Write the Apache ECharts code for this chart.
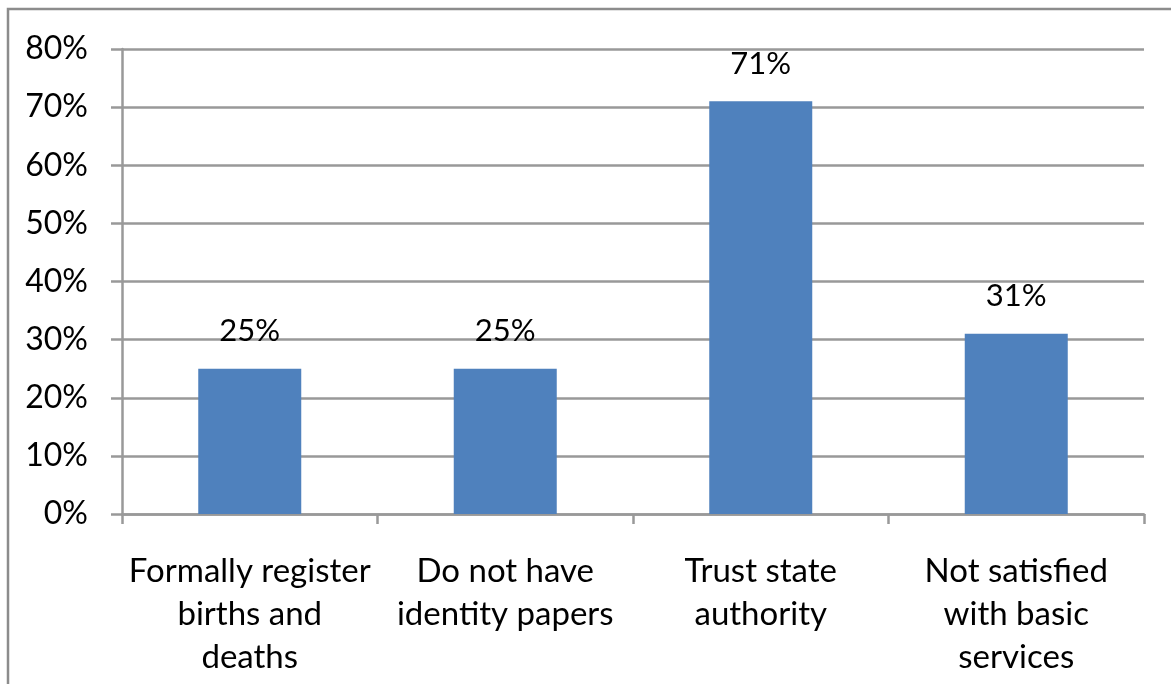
<!DOCTYPE html>
<html>
<head>
<meta charset="utf-8">
<script src="https://cdn.jsdelivr.net/npm/echarts@6/dist/echarts.min.js"></script>
<style>
html,body{margin:0;padding:0;background:#fff;}
#c{width:1171px;height:684px;}
</style>
</head>
<body>
<div id="c"></div>
<script>
const categories = ['Formally register\nbirths and\ndeaths', 'Do not have\nidentity papers', 'Trust state\nauthority', 'Not satisfied\nwith basic\nservices'];
const values = [25, 25, 71, 31];
const yTicks = [0, 10, 20, 30, 40, 50, 60, 70, 80];

const chart = echarts.init(document.getElementById('c'), null, {renderer: 'canvas'});
const font = 'Lato, "Open Sans", sans-serif';
chart.setOption({
  animation: false,
  backgroundColor: '#fff',
  graphic: [{
    type: 'rect',
    shape: {x: 8, y: 9, width: 1300, height: 800},
    style: {fill: 'none', stroke: '#8c8c8c', lineWidth: 2.5},
    silent: true
  }],
  grid: {left: 122, right: 27, top: 49, bottom: 170, containLabel: false},
  xAxis: {
    type: 'category',
    data: categories,
    axisLine: {show: true, lineStyle: {color: '#999', width: 2.5}},
    axisTick: {show: true, length: 10, lineStyle: {color: '#999', width: 2.5}},
    axisLabel: {color: '#000', fontSize: 33, fontFamily: font, lineHeight: 43, margin: 36, interval: 0}
  },
  yAxis: {
    type: 'value',
    min: yTicks[0],
    max: yTicks[yTicks.length - 1],
    interval: 10,
    axisLine: {show: true, lineStyle: {color: '#999', width: 2.5}},
    axisTick: {show: true, inside: false, length: 11, lineStyle: {color: '#999', width: 2.5}},
    axisLabel: {color: '#000', fontSize: 32, fontFamily: font, margin: 34, formatter: v => v + '%'},
    splitLine: {show: true, lineStyle: {color: '#999', width: 2.5}}
  },
  series: [{
    type: 'bar',
    data: values,
    barWidth: 103,
    itemStyle: {color: '#4F81BD'},
    label: {show: true, position: 'top', distance: 22, color: '#000', fontSize: 31, fontFamily: font, formatter: p => p.value + '%'}
  }]
});
</script>
</body>
</html>
